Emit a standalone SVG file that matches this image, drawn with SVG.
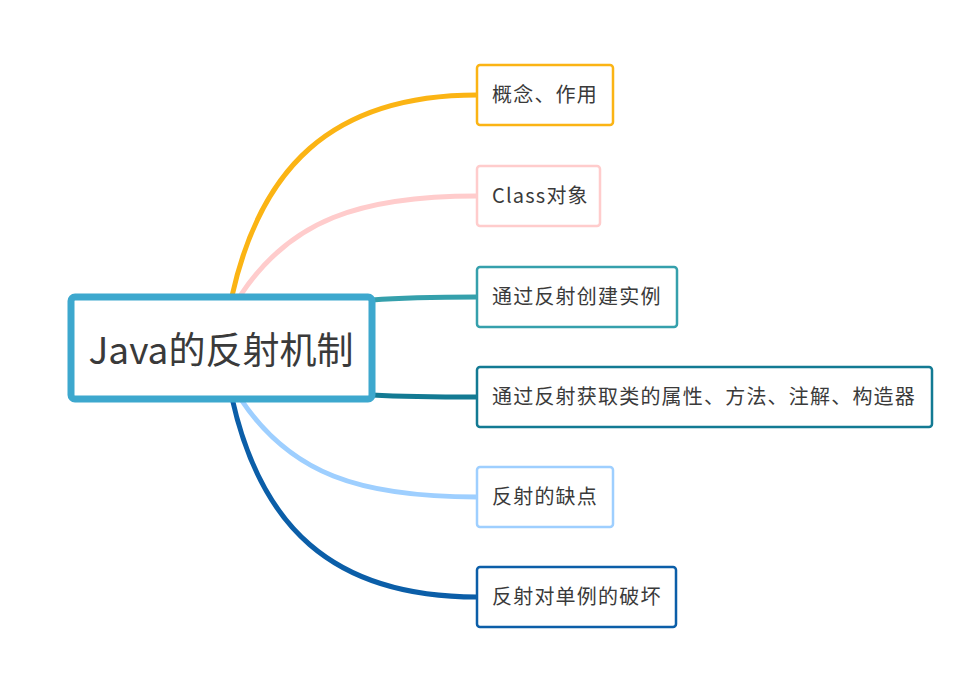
<svg xmlns="http://www.w3.org/2000/svg" width="968" height="682" viewBox="0 0 968 682">
<style>
text{font-family:"Noto Sans CJK SC","Open Sans",sans-serif;fill:#3a3a3a}
.c{fill:none;stroke-width:5;stroke-linecap:round}
.n{fill:#fff;stroke-width:2.5}
.t{font-size:20px;letter-spacing:1.2px}
</style>
<rect width="968" height="682" fill="#fff"/>
<g id="connectors">
<path class="c" stroke="#FBB414" d="M232,296 C260,170 330,95 477,95"/>
<path class="c" stroke="#FFCCCC" d="M240,296 C290,220 360,196 477,196"/>
<path class="c" stroke="#35A0AC" d="M372,300 C410,297 440,297 477,297"/>
<path class="c" stroke="#137A93" d="M372,395 C410,397 440,397 477,397"/>
<path class="c" stroke="#9ECFFF" d="M240,398 C290,474 360,497 477,497"/>
<path class="c" stroke="#0B5EA8" d="M232,398 C260,524 330,597 477,597"/>
</g>
<g id="root"><rect x="71" y="297" width="301" height="102" rx="4" fill="#fff" stroke="#3DA8CE" stroke-width="7"/>
<text x="221" y="364" font-size="37" text-anchor="middle">Java的反射机制</text></g>
<g id="n1"><rect class="n" x="477" y="65" width="136" height="60" rx="3" stroke="#FBB414"/><text class="t" x="492" y="102">概念、作用</text></g>
<g id="n2"><rect class="n" x="477" y="166" width="123" height="60" rx="3" stroke="#FFCCCC"/><text class="t" x="492" y="203">Class对象</text></g>
<g id="n3"><rect class="n" x="477" y="267" width="200" height="60" rx="3" stroke="#35A0AC"/><text class="t" x="492" y="304">通过反射创建实例</text></g>
<g id="n4"><rect class="n" x="477" y="367" width="455" height="60" rx="3" stroke="#137A93"/><text class="t" x="492" y="404">通过反射获取类的属性、方法、注解、构造器</text></g>
<g id="n5"><rect class="n" x="477" y="467" width="136" height="60" rx="3" stroke="#9ECFFF"/><text class="t" x="492" y="504">反射的缺点</text></g>
<g id="n6"><rect class="n" x="477" y="567" width="199" height="60" rx="3" stroke="#0B5EA8"/><text class="t" x="492" y="604">反射对单例的破坏</text></g>
</svg>
